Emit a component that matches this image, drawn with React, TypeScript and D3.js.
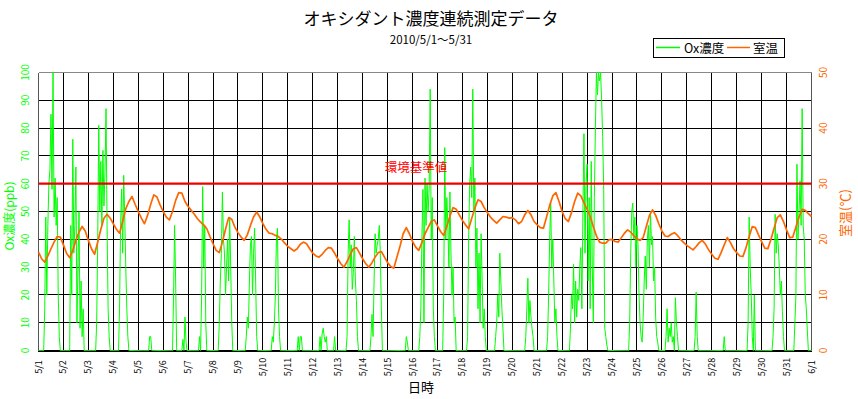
import React from 'react';
import * as d3 from 'd3';

// hourly Ox concentration (ppb), one row per day 0h..23h
const oxWeek1 = [
  0,0,0,0,0,0,15,48,20,45,60,65,85,58,100,48,62,45,55,20,5,0,0,0,
  0,0,0,0,0,0,0,45,20,76,35,45,66,10,30,50,8,25,5,15,0,0,0,0,
  0,0,0,0,0,0,0,0,10,40,81,50,68,45,72,52,64,87,45,15,5,0,0,0,
  0,0,0,0,0,0,15,45,58,35,63,48,30,15,5,0,0,0,0,0,0,0,0,0,
  0,0,0,0,0,0,0,0,0,0,0,5,5,0,0,0,0,0,0,0,0,0,0,0,
  0,0,0,0,0,0,0,0,0,0,20,45,25,0,0,0,0,0,0,4,0,12,3,0,
  0,0,0,0,0,0,0,0,0,0,0,5,0,20,59,30,45,10,0,0,0,0,0,0,
];
const oxWeek2 = [
  0,0,0,0,0,0,10,25,35,57,40,35,20,30,40,25,48,30,10,0,0,0,0,0,
  0,0,0,0,0,0,0,0,5,12,8,25,38,41,20,35,44,25,5,0,0,0,0,0,
  0,0,0,0,0,0,0,0,0,5,3,10,20,40,44,15,5,0,0,0,0,0,0,0,
  0,0,0,0,0,0,0,0,0,0,5,0,5,5,0,0,0,0,0,0,0,0,0,0,
  0,0,0,0,0,0,0,5,0,6,8,5,3,5,0,0,0,0,0,0,0,5,0,0,
  0,0,0,0,0,0,0,0,0,5,35,47,30,38,22,28,41,25,18,5,0,0,0,0,
  0,0,0,0,0,0,0,0,5,13,5,25,42,35,38,40,45,35,15,0,0,0,0,0,
];
const oxWeek3 = [
  0,0,0,0,0,0,0,0,0,0,0,0,0,0,0,0,0,0,5,3,0,0,0,0,
  0,0,0,0,0,0,0,5,15,40,58,10,62,45,60,50,58,94,40,55,15,5,0,0,
  0,0,0,0,0,0,20,73,40,55,45,30,57,35,20,30,10,12,0,0,0,0,0,0,
  0,0,0,0,0,5,40,60,66,55,94,50,62,30,44,15,35,10,42,25,8,15,5,0,
  0,0,0,0,0,0,0,0,5,10,20,12,35,25,15,8,0,0,0,0,0,0,0,0,
  0,0,0,0,0,0,0,0,0,0,0,0,0,5,15,26,10,18,12,8,5,0,0,0,
  0,0,0,0,0,0,0,0,0,0,5,20,40,53,30,40,25,10,15,5,0,0,0,0,
];
const oxWeek4 = [
  0,0,0,0,0,0,0,0,8,20,15,31,10,25,12,22,18,30,37,15,50,78,35,60,
  67,25,55,15,68,30,10,55,80,100,92,100,97,100,90,77,58,8,5,2,0,0,0,0,
  0,0,0,0,0,0,0,0,0,0,0,0,0,0,0,0,0,10,35,50,53,40,48,30,
  45,38,20,10,5,3,12,25,34,22,40,45,30,50,38,41,25,30,12,5,3,0,0,0,
  0,0,0,0,5,15,3,8,5,10,3,5,0,19,10,5,0,0,0,0,0,0,0,0,
  0,0,0,0,0,0,0,0,5,21,5,0,0,0,0,0,0,0,0,0,0,0,0,0,
  0,0,0,0,0,0,0,0,0,0,0,0,5,0,0,0,0,0,0,0,0,0,0,0,
];
const oxWeek5 = [
  0,0,0,0,0,0,0,0,0,0,0,10,48,30,20,5,0,20,0,0,0,0,0,0,
  0,0,0,0,0,0,0,0,0,0,0,5,15,49,35,42,38,30,20,25,14,5,0,0,
  0,0,0,0,0,0,0,0,10,20,67,40,50,61,45,87,45,40,20,15,7,0,0,0,
  0,
];

// room temperature (℃), every 3 hours
const tempWeek1 = [
  17.7,16.5,15.9,17,18.3,19.5,20.5,20.4,
  19,17.5,16.7,18,19.8,21.3,22.3,21.5,
  19.8,18.3,17.3,19.5,21.8,23.8,24.5,23.8,
  22.8,21.8,21.1,23.2,25.5,26.8,27.7,26.3,
  25,23.8,22.8,24.3,26.3,28,27.6,26.2,
  25,24,23.5,25,27,28.4,28.3,26.8,
  25.9,25.2,24.5,23.7,23.1,22.6,21.9,20.5,
];
const tempWeek2 = [
  19.2,18,17.6,19.5,21.8,23.9,23.6,22.2,
  21.2,20.4,19.8,20.8,22.5,24,24.9,24,
  22.8,21.8,21.1,21,20.7,20.5,20,19.3,
  18.7,18.3,17.9,18.3,19.1,19.5,19.2,18.3,
  17.5,17,16.8,17.3,18,18.5,18.4,17.5,
  16.5,15.6,15,16,17.2,18.3,18.5,17.5,
  16.5,15.6,15,15.8,16.8,17.6,17.8,16.8,
];
const tempWeek3 = [
  15.8,15.1,14.8,16.8,18.8,21,22.1,21,
  19.6,18.6,18,19.4,21,22.1,23.2,23.5,
  22.4,21.4,20.7,22.3,24.2,25.7,25.4,24.4,
  23.4,22.6,21.9,23.8,25.6,27.1,26.8,25.7,
  24.8,24,23.4,22.9,23.5,24.1,24,23.8,
  23.9,23.5,22.8,23.2,24.4,25.2,24.4,23.2,
  22.6,22.1,22,24,26.1,27.8,28.4,26.8,
];
const tempWeek4 = [
  25,23.7,23.2,24.8,26.8,28.3,27.8,26.6,
  25.4,24.1,22.3,20.6,19.5,19.3,19.3,19.9,
  20,19.6,19.5,20.3,21.1,21.7,21.3,20.6,
  20.1,19.8,20.3,22.3,24.3,25.3,24.3,22.8,
  21.5,20.6,20.5,20.9,21.2,20.7,20,19.4,
  18.9,18.5,18.1,18.7,19.4,19.8,19.1,18.1,
  17.3,16.6,16.4,17.6,19,20.3,19.4,18.3,
];
const tempWeek5 = [
  17.6,17,16.9,18.5,20.5,22.3,22.1,20.8,
  19.6,18.4,18.3,20,22,23.9,24.4,23.2,
  21.7,20.3,20.4,22.2,24,25.4,25.2,24.6,
  24.1,
];

const dateLabels = [
  '5/1','5/2','5/3','5/4','5/5','5/6','5/7','5/8','5/9','5/10',
  '5/11','5/12','5/13','5/14','5/15','5/16','5/17','5/18','5/19','5/20',
  '5/21','5/22','5/23','5/24','5/25','5/26','5/27','5/28','5/29','5/30',
  '5/31','6/1',
];
const oxTicks = [0, 10, 20, 30, 40, 50, 60, 70, 80, 90, 100];
const tempTicks = [0, 10, 20, 30, 40, 50];
const oxStandard = 60;

const W = 858;
const H = 399;
const GREEN = '#00ff00';
const ORANGE = '#ff6600';
const JP = '"Noto Sans CJK JP", "Noto Sans", sans-serif';

export default function App() {
  const ox = [...oxWeek1, ...oxWeek2, ...oxWeek3, ...oxWeek4, ...oxWeek5];
  const temp = [...tempWeek1, ...tempWeek2, ...tempWeek3, ...tempWeek4, ...tempWeek5];
  const hours = (dateLabels.length - 1) * 24;

  const x = d3.scaleLinear().domain([0, hours]).range([38.5, 811.5]);
  const yOx = d3.scaleLinear().domain([0, 100]).range([350.5, 72.5]);
  const yTemp = d3.scaleLinear().domain([0, 50]).range([350.5, 72.5]);

  const oxLine = d3.line<number>()
    .x((d, i) => x(i))
    .y(d => yOx(d));
  const tempLine = d3.line<number>()
    .x((d, i) => x(i * 3))
    .y(d => yTemp(d));

  const px = (v: number) => Math.round(v - 0.5) + 0.5;

  return (
    <div style={{position: 'absolute', left: 0, top: 0}}>
      <svg width={W} height={H} style={{display: 'block', background: '#fff'}}>
        {/* title */}
        <text x={431} y={25} textAnchor="middle" fontFamily={JP} fontSize={17} fill="#000">
          オキシダント濃度連続測定データ
        </text>
        <text x={431} y={44} textAnchor="middle" fontFamily={JP} fontSize={11.5} fill="#000">
          2010/5/1～5/31
        </text>

        {/* legend */}
        <rect x={653.5} y={38.5} width={131} height={19} fill="#fff" stroke="#000" strokeWidth={1} />
        <line x1={656} x2={680} y1={47.5} y2={47.5} stroke={GREEN} strokeWidth={1.5} />
        <text x={684} y={52.5} fontFamily={JP} fontSize={12.5} fill="#000">Ox濃度</text>
        <line x1={727} x2={750} y1={47.5} y2={47.5} stroke={ORANGE} strokeWidth={1.5} />
        <text x={753} y={52.5} fontFamily={JP} fontSize={12.5} fill="#000">室温</text>

        {/* grid */}
        <g shapeRendering="crispEdges">
          {oxTicks.map(t => (
            <line key={'h' + t} x1={38.5} x2={811.5} y1={px(yOx(t))} y2={px(yOx(t))}
                  stroke={t === 100 ? '#888' : '#000'} strokeWidth={1} />
          ))}
          {dateLabels.map((d, i) => (
            <line key={'v' + d} x1={px(x(i * 24))} x2={px(x(i * 24))} y1={72.5} y2={350.5}
                  stroke={i === 0 || i === dateLabels.length - 1 ? '#555' : '#000'} strokeWidth={1} />
          ))}
          <line x1={38} x2={812} y1={351} y2={351} stroke="#000" strokeWidth={1} />
        </g>

        {/* series */}
        <path d={oxLine(ox) || ''} fill="none" stroke={GREEN} strokeWidth={1} />
        <path d={tempLine(temp) || ''} fill="none" stroke={ORANGE} strokeWidth={1.7} strokeLinejoin="round" />

        {/* environmental standard */}
        <line x1={38.5} x2={811.5} y1={yOx(oxStandard)} y2={yOx(oxStandard)} stroke="#ee0000" strokeWidth={2.2} />
        <text x={416} y={172} textAnchor="middle" fontFamily={JP} fontSize={12.5} fill="#ff0000">
          環境基準値
        </text>

        {/* left axis labels */}
        {oxTicks.map(t => (
          <text key={'lt' + t} transform={`translate(29,${yOx(t)}) rotate(-90)`} textAnchor="middle"
                fontFamily={JP} fontSize={10} fill={GREEN}>{t}</text>
        ))}
        <text transform="translate(14,216) rotate(-90)" textAnchor="middle" fontFamily={JP} fontSize={12} fill={GREEN}>
          Ox濃度(ppb)
        </text>

        {/* right axis labels */}
        {tempTicks.map(t => (
          <text key={'rt' + t} transform={`translate(827,${yTemp(t)}) rotate(-90)`} textAnchor="middle"
                fontFamily={JP} fontSize={10} fill={ORANGE}>{t}</text>
        ))}
        <text transform="translate(850,213) rotate(-90)" textAnchor="middle" fontFamily={JP} fontSize={13} fill={ORANGE}>
          室温(℃)
        </text>

        {/* x axis labels */}
        {dateLabels.map((d, i) => (
          <text key={'xl' + d} transform={`translate(${x(i * 24) + 3},367) rotate(-90)`} textAnchor="middle"
                fontFamily={JP} fontSize={9} fill="#000">{d}</text>
        ))}
        <text x={421} y={392} textAnchor="middle" fontFamily={JP} fontSize={13} fill="#000">日時</text>
      </svg>
    </div>
  );
}
